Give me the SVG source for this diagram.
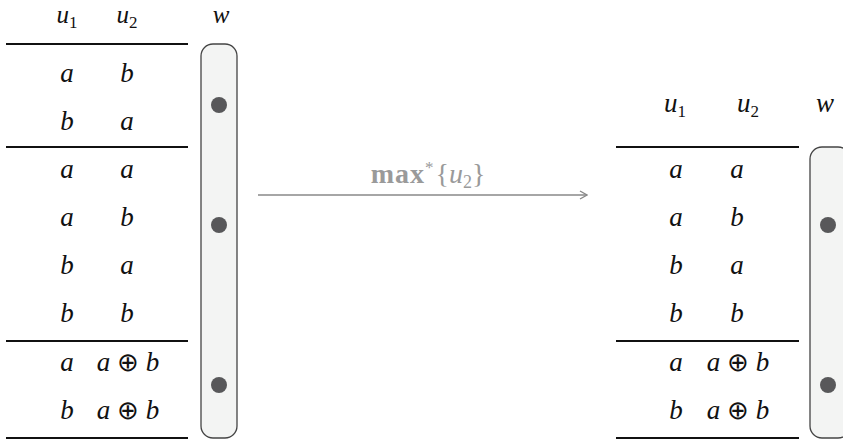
<svg xmlns="http://www.w3.org/2000/svg" width="843" height="440" viewBox="0 0 843 440">
<style>
.t{font-family:"Liberation Serif","DejaVu Serif",serif;font-style:italic;font-size:27px;fill:#111;text-anchor:middle}
.h{font-size:25px}
.s{font-size:17px;font-style:normal}
.op{font-family:"DejaVu Sans",sans-serif;font-style:normal;font-weight:200;font-size:26px}
.rule{stroke:#111;stroke-width:2}
.pill{fill:#f3f4f3;stroke:#444;stroke-width:1.3}
.dot{fill:#58585a}
.lbl{font-family:"Liberation Serif","DejaVu Serif",serif;font-size:28px;fill:#9a9a9a;text-anchor:middle}
</style>
<defs>
<marker id="arr" viewBox="0 0 10 10" refX="9" refY="5" markerWidth="10" markerHeight="10" markerUnits="userSpaceOnUse" orient="auto">
<path d="M2,1 L9,5 L2,9" fill="none" stroke="#888" stroke-width="1.3"/>
</marker>
</defs>
<g id="left-table">
<text class="t h" x="67" y="23">u<tspan class="s" dy="5">1</tspan></text>
<text class="t h" x="127" y="23">u<tspan class="s" dy="5">2</tspan></text>
<text class="t h" x="221" y="23">w</text>
<line class="rule" x1="6" y1="44" x2="188" y2="44"/>
<line class="rule" x1="6" y1="147" x2="188" y2="147"/>
<line class="rule" x1="6" y1="341" x2="188" y2="341"/>
<line class="rule" x1="6" y1="438" x2="188" y2="438"/>
<text class="t" x="67" y="82">a</text><text class="t" x="127" y="82">b</text>
<text class="t" x="67" y="130">b</text><text class="t" x="127" y="130">a</text>
<text class="t" x="67" y="178">a</text><text class="t" x="127" y="178">a</text>
<text class="t" x="67" y="226">a</text><text class="t" x="127" y="226">b</text>
<text class="t" x="67" y="274">b</text><text class="t" x="127" y="274">a</text>
<text class="t" x="67" y="322">b</text><text class="t" x="127" y="322">b</text>
<text class="t" x="67" y="371">a</text><text class="t" x="128" y="371">a <tspan class="op">⊕</tspan> b</text>
<text class="t" x="67" y="419">b</text><text class="t" x="128" y="419">a <tspan class="op">⊕</tspan> b</text>
</g>
<g id="left-w">
<rect class="pill" x="201" y="44" width="36" height="394" rx="12"/>
<circle class="dot" cx="219" cy="105" r="8"/>
<circle class="dot" cx="219" cy="225" r="8"/>
<circle class="dot" cx="219" cy="385" r="8"/>
</g>
<g id="connectors">
<line x1="258" y1="195" x2="587" y2="195" stroke="#888" stroke-width="1.3" marker-end="url(#arr)"/>
<text class="lbl" x="428" y="183"><tspan font-weight="bold" letter-spacing="1">max</tspan><tspan font-size="17" dy="-10">*</tspan><tspan dy="10" dx="2">{</tspan><tspan font-style="italic">u</tspan><tspan font-size="18" dy="5">2</tspan><tspan dy="-5">}</tspan></text>
</g>
<g id="right-table">
<text class="t" x="675" y="112">u<tspan class="s" dy="5">1</tspan></text>
<text class="t" x="748" y="112">u<tspan class="s" dy="5">2</tspan></text>
<text class="t" x="825" y="112">w</text>
<line class="rule" x1="616" y1="147" x2="799" y2="147"/>
<line class="rule" x1="616" y1="341" x2="799" y2="341"/>
<line class="rule" x1="616" y1="438" x2="799" y2="438"/>
<text class="t" x="676" y="178">a</text><text class="t" x="737" y="178">a</text>
<text class="t" x="676" y="226">a</text><text class="t" x="737" y="226">b</text>
<text class="t" x="676" y="274">b</text><text class="t" x="737" y="274">a</text>
<text class="t" x="676" y="322">b</text><text class="t" x="737" y="322">b</text>
<text class="t" x="676" y="371">a</text><text class="t" x="738" y="371">a <tspan class="op">⊕</tspan> b</text>
<text class="t" x="676" y="419">b</text><text class="t" x="738" y="419">a <tspan class="op">⊕</tspan> b</text>
</g>
<g id="right-w">
<rect class="pill" x="810" y="147" width="40" height="291" rx="12"/>
<circle class="dot" cx="828" cy="225" r="8"/>
<circle class="dot" cx="828" cy="385" r="8"/>
</g>
</svg>
